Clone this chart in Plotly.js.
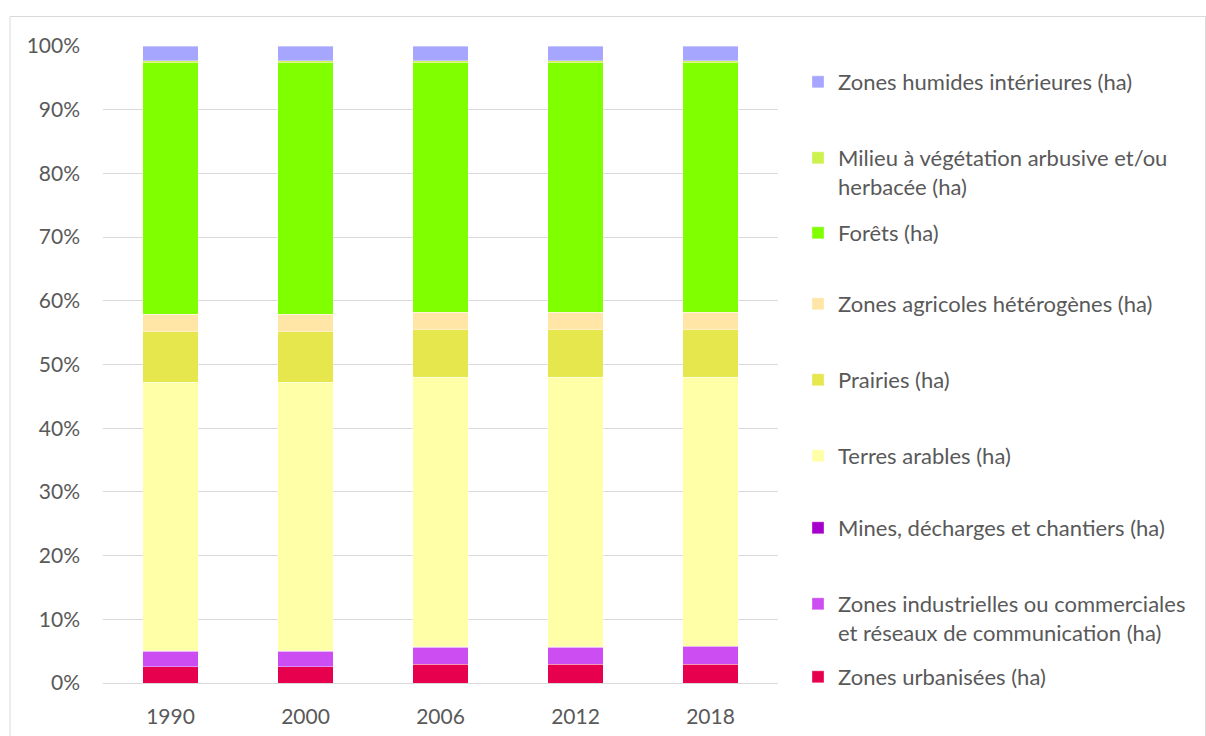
<!DOCTYPE html>
<html>
<head>
<meta charset="utf-8">
<script src="https://cdn.plot.ly/plotly-3.0.1.min.js"></script>
<style>html,body{margin:0;padding:0;background:#fff;}#chart{width:1206px;height:736px;}</style>
</head>
<body>
<div id="chart"></div>
<script>
// Categories (years)
const years = ['1990', '2000', '2006', '2012', '2018'];

// Shares of land cover (% of total area)
const zonesUrbanisees   = [2.56, 2.58, 2.93, 2.95, 2.97];
const zonesIndustrielles = [2.41, 2.42, 2.67, 2.68, 2.70];
const mines             = [0.10, 0.10, 0.10, 0.10, 0.10];
const terresArables     = [42.13, 42.12, 42.30, 42.25, 42.20];
const prairies          = [7.95, 7.95, 7.46, 7.45, 7.45];
const zonesAgricoles    = [2.75, 2.75, 2.74, 2.75, 2.75];
const forets            = [39.50, 39.48, 39.20, 39.22, 39.23];
const milieuVegetation  = [0.30, 0.30, 0.30, 0.30, 0.30];
const zonesHumides      = [2.30, 2.30, 2.30, 2.30, 2.30];

// Series names
const seriesNames = [
  'Zones urbanisées (ha)',
  'Zones industrielles ou commerciales<br>et réseaux de communication (ha)',
  'Mines, décharges et chantiers (ha)',
  'Terres arables (ha)',
  'Prairies (ha)',
  'Zones agricoles hétérogènes (ha)',
  'Forêts (ha)',
  'Milieu à végétation arbusive et/ou<br>herbacée (ha)',
  'Zones humides intérieures (ha)'
];
const seriesValues = [zonesUrbanisees, zonesIndustrielles, mines, terresArables, prairies,
                      zonesAgricoles, forets, milieuVegetation, zonesHumides];
const seriesColors = ['#E6004D', '#CC4DF2', '#A600CC', '#FFFFA8', '#E6E64D',
                      '#FFE6A6', '#80FF00', '#CCF24D', '#A6A6FF'];

// Legend first-line centre positions (px from top) for each series
const legendTextY = [677, 604, 528, 456, 380, 304, 233, 158, 82];

const plotTop = 46, plotBottom = 683, plotLeft = 103, plotRight = 778;
const W = 1206, H = 736;
const plotH = plotBottom - plotTop, plotW = plotRight - plotLeft;
const fontFamily = 'Lato, "Open Sans", sans-serif';

const traces = seriesNames.map((name, i) => ({
  type: 'bar',
  name: name,
  x: years,
  y: seriesValues[i],
  width: 0.41,
  marker: { color: seriesColors[i], line: { color: 'rgba(255,255,255,0.6)', width: 0.6 } },
  legend: i === 0 ? 'legend' : 'legend' + (i + 1),
  hoverinfo: 'name+y'
}));

const layout = {
  width: W,
  height: H,
  paper_bgcolor: '#ffffff',
  plot_bgcolor: '#ffffff',
  barmode: 'stack',
  barnorm: 'percent',
  margin: { l: plotLeft, r: W - plotRight, t: plotTop, b: H - plotBottom, pad: 0 },
  font: { family: fontFamily, size: 21, color: '#595959' },
  xaxis: {
    type: 'category',
    showgrid: false,
    showline: true,
    linecolor: '#D9D9D9',
    linewidth: 1,
    ticks: '',
    tickfont: { size: 21, color: '#595959' },
    ticklabelstandoff: 15,
    fixedrange: true
  },
  yaxis: {
    range: [0, 100],
    dtick: 10,
    tick0: 0,
    ticksuffix: '%',
    showgrid: true,
    gridcolor: '#D9D9D9',
    gridwidth: 1,
    zeroline: false,
    showline: false,
    ticks: '',
    tickfont: { size: 21, color: '#595959' },
    ticklabelstandoff: 22,
    fixedrange: true
  },
  shapes: [{
    type: 'rect', xref: 'paper', yref: 'paper',
    x0: (10 - plotLeft) / plotW, x1: (1205.5 - plotLeft) / plotW,
    y0: (plotBottom - 745) / plotH, y1: (plotBottom - 16.5) / plotH,
    line: { color: '#D9D9D9', width: 1 }, fillcolor: 'rgba(0,0,0,0)', layer: 'below'
  }],
  showlegend: true
};

legendTextY.forEach((py, i) => {
  const key = i === 0 ? 'legend' : 'legend' + (i + 1);
  layout[key] = {
    x: (798 - plotLeft) / plotW,
    xanchor: 'left',
    y: (plotBottom - (py - 21)) / plotH,
    yanchor: 'top',
    valign: 'top',
    bgcolor: 'rgba(0,0,0,0)',
    borderwidth: 0,
    font: { size: 22, color: '#595959', family: fontFamily },
    itemclick: false,
    itemdoubleclick: false
  };
});

Plotly.newPlot('chart', traces, layout, { displayModeBar: false, staticPlot: true });
</script>
</body>
</html>
